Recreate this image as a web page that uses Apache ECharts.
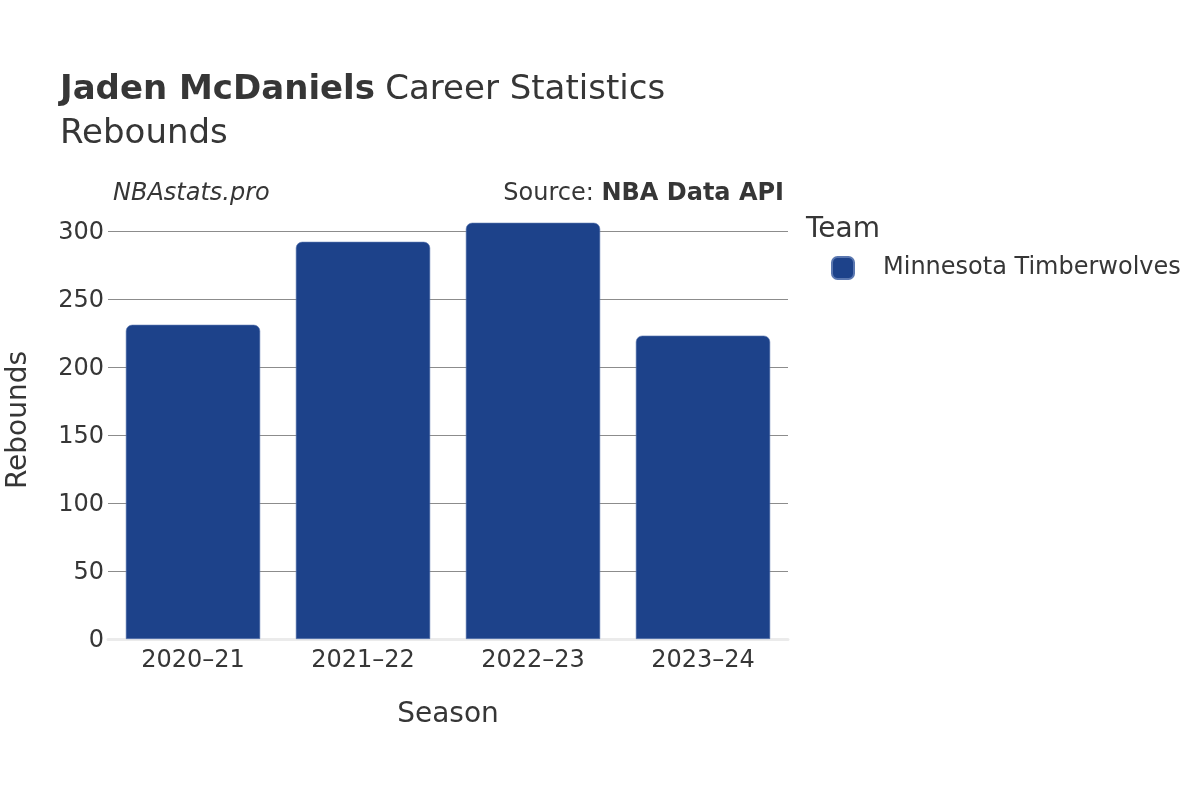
<!DOCTYPE html>
<html>
<head>
<meta charset="utf-8">
<script src="https://cdn.jsdelivr.net/npm/echarts@6/dist/echarts.min.js"></script>
<style>
html,body{margin:0;padding:0;background:#fff;}
#main{width:1200px;height:800px;}
</style>
</head>
<body>
<div id="main"></div>
<script>
var seasons = ['2020–21', '2021–22', '2022–23', '2023–24'];
var rebounds = [231, 292, 306, 223];
var teamName = 'Minnesota Timberwolves';
var yTicks = [0, 50, 100, 150, 200, 250, 300];
var yMax = 322;

var FONT = 'DejaVu Sans';
var TXT = '#363636';
var GRID = '#8c8c8c';
var splitColors = ['rgba(0,0,0,0)', GRID, GRID, GRID, GRID, GRID, GRID, 'rgba(0,0,0,0)'];

var chart = echarts.init(document.getElementById('main'), null, {renderer: 'canvas'});
chart.setOption({
  backgroundColor: '#fff',
  textStyle: {fontFamily: FONT},
  animation: false,
  title: [
    {
      text: '{b|Jaden McDaniels} {n|Career Statistics}',
      left: 60, top: 73, padding: 0,
      textStyle: {rich: {
        b: {fontFamily: FONT, fontSize: 34, fontWeight: 'bold', color: TXT},
        n: {fontFamily: FONT, fontSize: 34, fontWeight: 'normal', color: TXT, padding: [0, 0, 0, 4]}
      }}
    },
    {
      text: 'Rebounds',
      left: 60, top: 117, padding: 0,
      textStyle: {fontFamily: FONT, fontSize: 34, fontWeight: 'normal', color: TXT}
    },
    {
      text: 'NBAstats.pro',
      left: 113, top: 182, padding: 0,
      textStyle: {fontFamily: FONT, fontSize: 24, fontStyle: 'italic', fontWeight: 'normal', color: TXT}
    },
    {
      text: 'Source: {b|NBA Data API}',
      right: 1200 - 784, top: 182, padding: 0,
      textStyle: {fontFamily: FONT, fontSize: 24, fontWeight: 'normal', color: TXT,
        rich: {b: {fontFamily: FONT, fontSize: 24, fontWeight: 'bold', color: TXT}}}
    },
    {
      text: 'Team',
      left: 806, top: 216, padding: 0,
      textStyle: {fontFamily: FONT, fontSize: 28, fontWeight: 'normal', color: TXT}
    }
  ],
  legend: {
    left: 831, top: 256,
    orient: 'vertical',
    icon: 'roundRect',
    itemWidth: 22, itemHeight: 22,
    padding: 0,
    textStyle: {fontFamily: FONT, fontSize: 24, color: TXT, padding: [0, 0, 0, 24]},
    data: [teamName]
  },
  grid: {left: 108, right: 412, top: 201, bottom: 161, containLabel: false, outerBoundsMode: 'none'},
  xAxis: {
    type: 'category',
    data: seasons,
    name: 'Season',
    nameLocation: 'middle',
    nameGap: 62,
    nameTextStyle: {fontFamily: FONT, fontSize: 28, color: TXT},
    axisLine: {show: true, lineStyle: {color: '#ebebeb', width: 3}},
    axisTick: {show: false},
    axisLabel: {fontFamily: FONT, fontSize: 24, color: TXT, margin: 10}
  },
  yAxis: {
    type: 'value',
    min: 0, max: yMax, interval: 50,
    name: 'Rebounds',
    nameLocation: 'middle',
    nameGap: 75,
    nameTextStyle: {fontFamily: FONT, fontSize: 28, color: TXT},
    axisLine: {show: false},
    axisTick: {show: false},
    axisLabel: {fontFamily: FONT, fontSize: 24, color: TXT, margin: 4,
      showMaxLabel: false,
      formatter: function (v) { return yTicks.indexOf(v) >= 0 ? '{t|' + v + '}' : ''; },
      rich: {t: {fontFamily: FONT, fontSize: 24, color: TXT, padding: [4, 0, 0, 0]}}},
    splitLine: {show: true, lineStyle: {color: splitColors, width: 1}}
  },
  series: [{
    name: teamName,
    type: 'bar',
    data: rebounds,
    barCategoryGap: '21%',
    itemStyle: {color: '#1d428a', borderColor: '#5a77b0', borderWidth: 0.6, borderRadius: [6, 6, 0, 0]},
    z: 3
  }]
});
</script>
</body>
</html>
